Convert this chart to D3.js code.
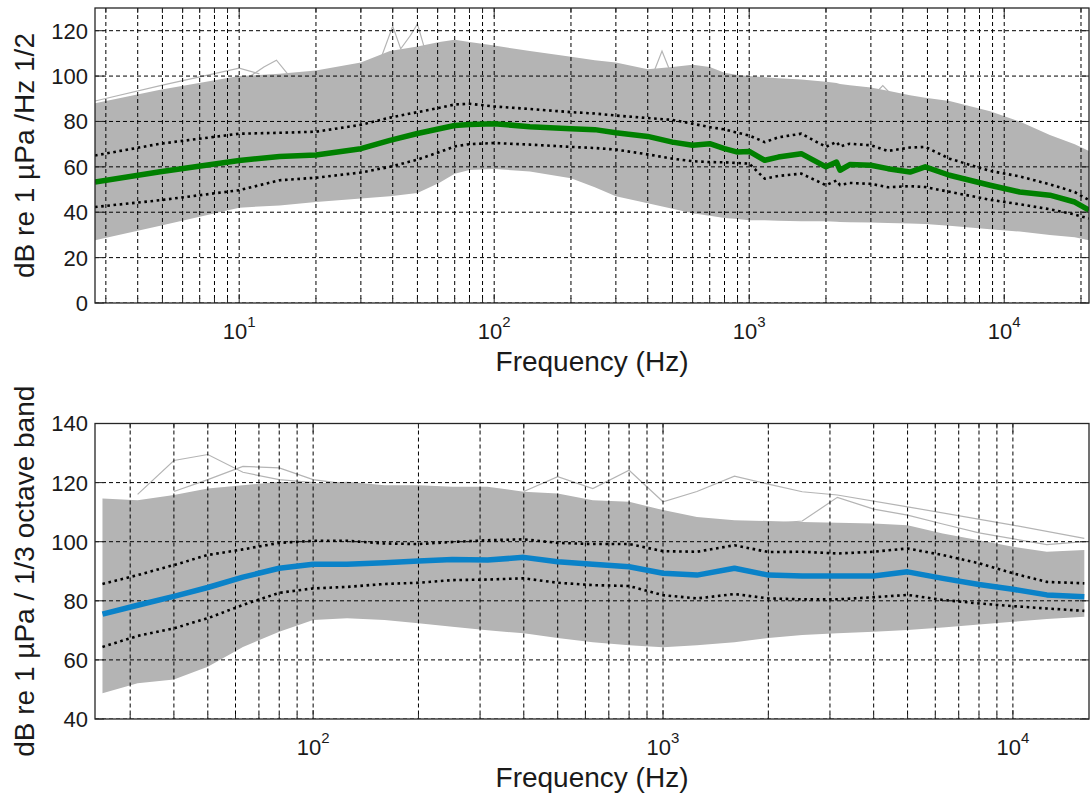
<!DOCTYPE html>
<html>
<head>
<meta charset="utf-8">
<script src="https://cdn.jsdelivr.net/npm/d3@7"></script>
<style>
  body { margin: 0; background: #fff; }
  svg { display: block; font-family: "Liberation Sans", Arial, sans-serif; }
</style>
</head>
<body>
<div id="chart"></div>
<script>

// ---- top panel: spectral density ----
var topF      = [2.72, 4.9, 10, 14.4, 20, 30, 39, 50, 61, 70, 80, 100, 138, 200, 248, 300, 400, 500, 600, 700,
                 800, 900, 1000, 1150, 1300, 1600, 2000, 2200, 2270, 2480, 3000, 3500, 4270, 4900, 6100, 8800,
                 11500, 15100, 18900, 21500];
var topMedian = [53.3, 57.8, 62.8, 64.6, 65.2, 68, 71.7, 74.7, 76.8, 78.2, 78.7, 79, 77.7, 76.8, 76.4, 75, 73.4, 70.9, 69.5, 70.2,
                 68, 66.5, 66.8, 62.9, 64.3, 65.8, 60, 62.1, 58.5, 61, 60.7, 59.2, 57.7, 60, 56.3, 51.9,
                 48.9, 47.5, 44.5, 40.9];
var topHigh   = [65, 70.2, 74.6, 75, 75.5, 78.5, 81.7, 84.1, 86, 87.5, 87.8, 86.6, 85.5, 84.1, 83.5, 82.6, 81.5, 80.7, 79, 77.5,
                 76.5, 75, 73.8, 70.9, 73, 74.6, 68.8, 71, 69, 70.2, 69.5, 67, 68.5, 68.8, 63.6, 58.2,
                 55.8, 52.3, 48.9, 45.3];
var topLow    = [42.3, 45.3, 49.7, 54.1, 55.2, 57.5, 60, 63.2, 66.5, 69, 70, 70.5, 69.8, 68.8, 68.3, 67.6, 65.5, 63.6, 62.5, 62.1,
                 62, 61.7, 61.4, 54.8, 56, 57, 51.9, 54, 52, 52.9, 52.5, 51, 51.5, 51.1, 49, 45.5,
                 43.5, 41.3, 39, 37.2];
var topEnvHi  = [88, 94, 100, 101, 102.5, 106, 111, 113, 115, 116, 115, 113.5, 111, 108.5, 107, 106, 103, 104, 105, 104,
                 101.5, 100.5, 100, 99.5, 99, 98.5, 97.5, 97, 96.5, 96, 95, 93.5, 91.5, 90.5, 89, 84.5,
                 80, 74, 70, 67];
var topEnvLo  = [27.7, 34, 42, 43, 44.5, 46, 47, 48.5, 53, 57, 58.6, 59, 58, 55, 51, 47, 44, 41.5, 39.5, 38.5,
                 37.5, 37, 36.5, 36.5, 36.3, 36, 36, 35.8, 35.7, 35.6, 35.5, 35.3, 35, 34.8, 34, 32.5,
                 31.5, 30, 29, 27.7];

// a few stray spectra that stick out above the band
var topOutliers = [
  { f: [2.72, 5, 10, 12], v: [89, 96, 103.5, 101] },
  { f: [9.5, 12.5, 14, 16, 18], v: [95, 104, 107, 99, 100] },
  { f: [36, 40, 43, 47, 50, 54, 60], v: [108, 122, 112, 118, 123, 110, 113] },
  { f: [420, 455, 490], v: [101, 111, 102] },
  { f: [3100, 3340, 3600], v: [92, 95.8, 92] }
];

// ---- bottom panel: 1/3 octave band levels ----
var botF      = [25, 31.5, 40, 50, 63, 80, 100, 125, 160, 200, 250, 315, 400, 500, 630, 800, 1000, 1250, 1600, 2000,
                 2500, 3150, 4000, 5000, 6300, 8000, 10000, 12500, 16000];
var botMedian = [75.5, 78.5, 81.5, 84.5, 88, 91, 92.4, 92.4, 92.9, 93.5, 94, 93.8, 94.7, 93.2, 92.4, 91.5, 89.3, 88.7, 91, 88.7,
                 88.4, 88.4, 88.4, 89.8, 87.6, 85.5, 83.9, 82, 81.4];
var botHigh   = [85.7, 88.7, 92.1, 95.5, 97.4, 99.6, 100.3, 100.3, 99.4, 99.2, 99.9, 100.5, 100.8, 99.6, 99.2, 99.2, 96.8, 96.6, 98.8, 96.5,
                 96.6, 96, 96.6, 97.7, 95.5, 92.7, 89.3, 86.4, 85.9];
var botLow    = [64.4, 68.1, 70.7, 74.1, 78.6, 82.7, 84.2, 84.7, 85.7, 86.1, 87, 87.2, 87.6, 86.1, 85.3, 85, 81.9, 80.8, 82.3, 80.8,
                 80.5, 80.5, 81.2, 82, 80.3, 79.1, 78.2, 77.4, 76.6];
var botEnvHi  = [114.6, 114, 115.8, 118, 119.1, 120.3, 119.7, 120.3, 119.1, 119.1, 118.6, 118.6, 116.9, 116.3, 114, 113.5, 110.7, 108.4, 107.3, 107,
                 106.7, 106.4, 106.2, 105.6, 102.8, 100.5, 98.3, 96.6, 97.2];
var botEnvLo  = [48.7, 52.1, 53.4, 57.7, 64.4, 69.5, 73.5, 74.1, 73.5, 72.4, 71.2, 70, 69, 67.4, 66, 65, 64.3, 65, 66, 67.4,
                 68.4, 69, 69.5, 70.1, 71, 72, 72.9, 73.8, 74.6];

var botOutliers = [
  { f: [31.5, 40, 50, 63, 80, 100], v: [116, 127.5, 129.5, 123.5, 121, 120] },
  { f: [40, 50, 63, 80, 100, 125], v: [117, 121, 125.5, 125, 121, 119.5] },
  { f: [400, 500, 630, 800, 1000, 1250, 1600, 2000, 2500, 3150, 5000, 10000, 16000],
    v: [117, 122, 118, 124.2, 113.5, 117, 122.2, 119.5, 116.9, 115.8, 111.8, 105.6, 101.1] },
  { f: [2000, 2500, 3150, 4000, 5000, 6300, 8000, 12500, 16000], v: [106, 107, 115, 111, 109, 106, 103, 99, 100] }
];

var topYTicks = [0, 20, 40, 60, 80, 100, 120];
var botYTicks = [40, 60, 80, 100, 120, 140];
var topXExp = [1, 2, 3, 4];
var botXExp = [2, 3, 4];

var svg = d3.select("#chart").append("svg")
    .attr("width", 1091)
    .attr("height", 794);

function zip(f, v) {
  return f.map(function(d, i) { return { f: d, v: v[i] }; });
}

/*
 one MATLAB-looking panel: grey band of all spectra, percentile dots, median
*/
function draw_panel(p) {
  var x = d3.scaleLog().domain(p.xDomain).range([p.left, p.right]);
  var y = d3.scaleLinear().domain(p.yDomain).range([p.bottom, p.top]);

  var g = svg.append("g");

  g.append("clipPath").attr("id", p.id + "_clip")
    .append("rect")
      .attr("x", p.left).attr("y", p.top)
      .attr("width", p.right - p.left).attr("height", p.bottom - p.top);

  var plot = g.append("g").attr("clip-path", "url(#" + p.id + "_clip)");

  var line = d3.line()
      .x(function(d) { return x(d.f); })
      .y(function(d) { return y(d.v); });

  var band = d3.area()
      .x(function(d) { return x(d.f); })
      .y0(function(d) { return y(d.lo); })
      .y1(function(d) { return y(d.hi); });

  // grey envelope of every spectrum
  plot.append("path")
      .datum(p.f.map(function(d, i) { return { f: d, lo: p.envLo[i], hi: p.envHi[i] }; }))
      .attr("d", band)
      .style("fill", "#b4b4b4");

  plot.selectAll(".outlier")
      .data(p.outliers)
    .enter().append("path")
      .attr("class", "outlier")
      .attr("d", function(o) { return line(zip(o.f, o.v)); })
      .style("fill", "none")
      .style("stroke", "#b4b4b4")
      .style("stroke-width", 1.2);

  // grid, dashed, on top like matlab
  var minors = [];
  var lo = Math.floor(Math.log10(p.xDomain[0])), hi = Math.ceil(Math.log10(p.xDomain[1]));
  for (var e = lo; e <= hi; e++) {
    for (var m = 1; m < 10; m++) {
      var v = m * Math.pow(10, e);
      if (v > p.xDomain[0] && v < p.xDomain[1]) minors.push(v);
    }
  }

  plot.selectAll(".vgrid")
      .data(minors)
    .enter().append("line")
      .attr("x1", function(d) { return x(d); })
      .attr("x2", function(d) { return x(d); })
      .attr("y1", p.top).attr("y2", p.bottom)
      .style("stroke", "#000")
      .style("stroke-width", 1)
      .style("stroke-dasharray", "4,3");

  plot.selectAll(".hgrid")
      .data(p.yTicks)
    .enter().append("line")
      .attr("x1", p.left).attr("x2", p.right)
      .attr("y1", function(d) { return y(d); })
      .attr("y2", function(d) { return y(d); })
      .style("stroke", "#000")
      .style("stroke-width", 1)
      .style("stroke-dasharray", "4,3");

  // percentile lines
  [p.high, p.low].forEach(function(s) {
    plot.append("path")
        .datum(zip(p.f, s))
        .attr("d", line)
        .style("fill", "none")
        .style("stroke", "#000")
        .style("stroke-width", 2.6)
        .style("stroke-dasharray", "2.6,3.6");
  });

  // median
  plot.append("path")
      .datum(zip(p.f, p.median))
      .attr("d", line)
      .style("fill", "none")
      .style("stroke", p.color)
      .style("stroke-width", 5.5)
      .style("stroke-linejoin", "round");

  // inside ticks
  var ticks = g.append("g").style("stroke", "#262626").style("stroke-width", 1);
  minors.forEach(function(d) {
    var major = Math.abs(Math.log10(d) - Math.round(Math.log10(d))) < 1e-9;
    var len = major ? 9 : 5;
    ticks.append("line").attr("x1", x(d)).attr("x2", x(d)).attr("y1", p.bottom).attr("y2", p.bottom - len);
    ticks.append("line").attr("x1", x(d)).attr("x2", x(d)).attr("y1", p.top).attr("y2", p.top + len);
  });
  p.yTicks.forEach(function(d) {
    ticks.append("line").attr("x1", p.left).attr("x2", p.left + 9).attr("y1", y(d)).attr("y2", y(d));
    ticks.append("line").attr("x1", p.right).attr("x2", p.right - 9).attr("y1", y(d)).attr("y2", y(d));
  });

  // box
  g.append("rect")
      .attr("x", p.left).attr("y", p.top)
      .attr("width", p.right - p.left).attr("height", p.bottom - p.top)
      .style("fill", "none")
      .style("stroke", "#262626")
      .style("stroke-width", 1.3);

  // tick labels
  g.selectAll(".ylab")
      .data(p.yTicks)
    .enter().append("text")
      .attr("x", p.left - 7)
      .attr("y", function(d) { return y(d); })
      .attr("dy", "0.36em")
      .style("text-anchor", "end")
      .style("font-size", "22px")
      .style("fill", "#1a1a1a")
      .text(function(d) { return d; });

  var xl = g.selectAll(".xlab")
      .data(p.xExp)
    .enter().append("text")
      .attr("x", function(d) { return x(Math.pow(10, d)); })
      .attr("y", p.bottom + 36)
      .style("text-anchor", "middle")
      .style("font-size", "22px")
      .style("fill", "#1a1a1a");
  xl.append("tspan").text("10");
  xl.append("tspan").attr("dy", -12).style("font-size", "15px").text(function(d) { return d; });

  // axis titles
  g.append("text")
      .attr("x", (p.left + p.right) / 2)
      .attr("y", p.bottom + 68)
      .style("text-anchor", "middle")
      .style("font-size", "28px")
      .style("fill", "#1a1a1a")
      .text("Frequency (Hz)");

  g.append("text")
      .attr("transform", "translate(34," + (p.top + p.bottom) / 2 + ") rotate(-90)")
      .style("text-anchor", "middle")
      .style("font-size", "28px")
      .style("fill", "#1a1a1a")
      .text(p.yLabel);
}

draw_panel({
  id: "top", left: 95, right: 1089, top: 8, bottom: 303,
  xDomain: [2.72, 21500], yDomain: [0, 130],
  f: topF, median: topMedian, high: topHigh, low: topLow, envHi: topEnvHi, envLo: topEnvLo,
  outliers: topOutliers, yTicks: topYTicks, xExp: topXExp,
  color: "#008000", yLabel: "dB re 1 µPa /Hz 1/2"
});

draw_panel({
  id: "bot", left: 95, right: 1089, top: 423.5, bottom: 719,
  xDomain: [23.8, 16500], yDomain: [40, 140],
  f: botF, median: botMedian, high: botHigh, low: botLow, envHi: botEnvHi, envLo: botEnvLo,
  outliers: botOutliers, yTicks: botYTicks, xExp: botXExp,
  color: "#0a82c8", yLabel: "dB re 1 µPa / 1/3 octave band"
});

</script>
</body>
</html>
